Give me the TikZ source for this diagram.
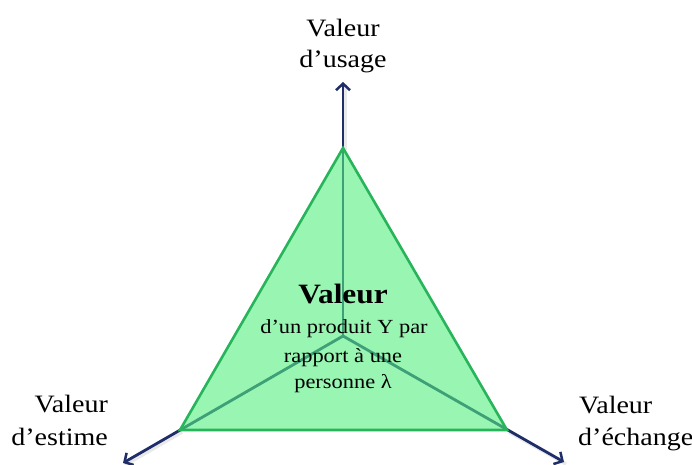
\documentclass[tikz,border=0pt]{standalone}
\usepackage{fontspec}
\setmainfont{Liberation Serif}[FakeStretch=1.12]
\usetikzlibrary{arrows.meta}
\definecolor{navy}{RGB}{31,45,105}
\definecolor{trifill}{RGB}{83,238,127}
\definecolor{triedge}{RGB}{40,180,90}
\tikzset{
  axis/.style={draw=navy, line width=2.8pt, -{Straight Barb[length=6.5pt,width=14pt,line width=2.5pt]}},
  shadowline/.style={draw=black!25, line width=3.5pt, opacity=0.35},
  lbl/.style={font=\fontsize{25}{31}\selectfont, inner sep=0pt},
  ctext/.style={font=\fontsize{20}{27.5}\selectfont, inner sep=0pt, align=center},
}
\begin{document}
\begin{tikzpicture}[x=1pt,y=-1pt]
\useasboundingbox (0,0) rectangle (692,464);
\coordinate (c) at (343,336);
\coordinate (vt) at (343,148);
\coordinate (vl) at (180,430);
\coordinate (vr) at (507,430);
\coordinate (tt) at (343,82);
\coordinate (tl) at (123,463);
\coordinate (tr) at (564,462);
% shadows
\draw[shadowline] ([shift={(2,2)}]vt) -- ([shift={(2,2)}]tt);
\draw[shadowline] ([shift={(2,2)}]vl) -- ([shift={(2,2)}]tl);
\draw[shadowline] ([shift={(2,2)}]vr) -- ([shift={(2,2)}]tr);
% axes
\draw[axis] (c) -- (tt);
\draw[axis] (c) -- (tl);
\draw[axis] (c) -- (tr);
% triangle
\fill[trifill, fill opacity=0.6] (vt) -- (vl) -- (vr) -- cycle;
\draw[triedge, line width=2.6pt, line join=miter] (vt) -- (vl) -- (vr) -- cycle;
% labels
\node[lbl, anchor=base] (lt1) at (343,36) {Valeur};
\node[lbl, anchor=base] (lt2) at (343,67) {d’usage};
\node[lbl, anchor=base east] (ll1) at (108,412) {Valeur};
\node[lbl, anchor=base east] (ll2) at (108,445) {d’estime};
\node[lbl, anchor=base west] (lr1) at (579,413) {Valeur};
\node[lbl, anchor=base west] (lr2) at (578,445) {d’échange};
% center text
\node[font=\fontsize{28}{30}\selectfont\bfseries, inner sep=0pt, anchor=base] (cv) at (343,303) {Valeur};
\node[ctext, anchor=base] (c1) at (344,333) {d’un produit Y par};
\node[ctext, anchor=base] (c2) at (343,362) {rapport à une};
\node[ctext, anchor=base] (c3) at (343,388) {personne λ};
\end{tikzpicture}
\end{document}
